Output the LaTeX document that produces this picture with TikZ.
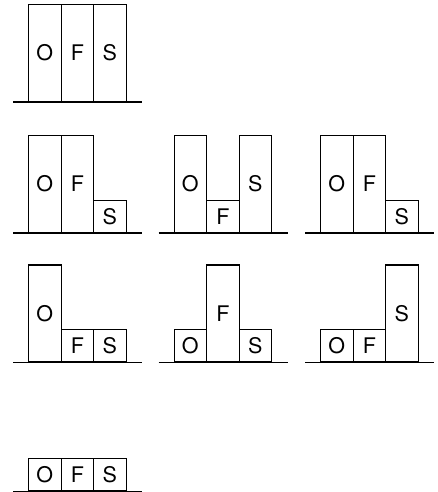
\documentclass[tikz,border=0pt]{standalone}
\usepackage{fontspec}
\setmainfont{TeX Gyre Heros}
\begin{document}
\begin{tikzpicture}[x=1pt,y=-1pt,
  blk/.style={draw, line width=1.2pt, minimum width=32.5pt, inner sep=0pt, anchor=south west, font=\fontsize{21.5}{24}\selectfont},
  tallblk/.style={blk, minimum height=97pt},
  shortblk/.style={blk, minimum height=32.3pt},
  ground/.style={line width=1.1pt}]
\useasboundingbox (0,0) rectangle (438,492);
\newcommand\ofsgroup[6]{%
  \node[#4] (#1O) at (#2,#3) {O};
  \node[#5] (#1F) at (#2+32.5,#3) {F};
  \node[#6] (#1S) at (#2+65,#3) {S};
  \coordinate (#1gl) at (#2-15,#3);
  \coordinate (#1gr) at (#2+114,#3);
  \draw[ground] (#1gl) -- (#1gr);
}
\ofsgroup{a}{28}{102}{tallblk}{tallblk}{tallblk}
\ofsgroup{b}{28}{233}{tallblk}{tallblk}{shortblk}
\ofsgroup{c}{173.5}{233}{tallblk}{shortblk}{tallblk}
\ofsgroup{d}{320}{233}{tallblk}{tallblk}{shortblk}
\ofsgroup{e}{28}{362.5}{tallblk}{shortblk}{shortblk}
\ofsgroup{f}{173.5}{362.5}{shortblk}{tallblk}{shortblk}
\ofsgroup{g}{320}{362.5}{shortblk}{shortblk}{tallblk}
\ofsgroup{h}{28}{491.5}{shortblk}{shortblk}{shortblk}
\end{tikzpicture}
\end{document}
